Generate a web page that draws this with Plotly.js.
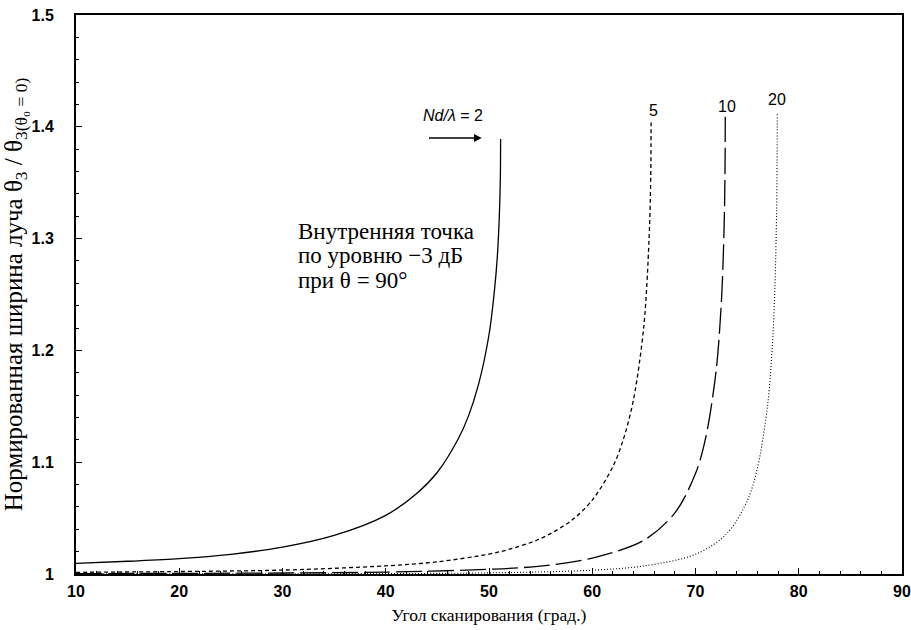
<!DOCTYPE html>
<html>
<head>
<meta charset="utf-8">
<script src="https://cdn.plot.ly/plotly-3.0.1.min.js"></script>
<style>html,body{margin:0;padding:0;background:#fff;}#chart{width:911px;height:630px;}</style>
</head>
<body>
<div id="chart"></div>
<script>
// Scan angle (deg) and normalized beamwidth, for each Nd/lambda
const scan2  = [10, 15, 20, 25, 30, 35, 40, 43, 45, 47, 48, 49, 50, 50.5, 50.8, 51, 51.1, 51.12, 51.125];
const beam2  = [1.0095, 1.0114, 1.0137, 1.0176, 1.024, 1.0345, 1.0525, 1.072, 1.091, 1.1205, 1.141, 1.170, 1.214, 1.251, 1.283, 1.320, 1.355, 1.378, 1.389];

const scan5  = [10, 20, 30, 40, 45, 50, 52, 55, 58, 60, 62, 63, 64, 65, 65.5, 65.65, 65.68, 65.7];
const beam5  = [1.0015, 1.0022, 1.0035, 1.0073, 1.0109, 1.0178, 1.0222, 1.0317, 1.048, 1.0661, 1.0961, 1.1201, 1.1562, 1.2222, 1.2989, 1.3469, 1.3685, 1.4038];

const scan10 = [10, 30, 40, 50, 55, 60, 65, 68, 70, 71, 72, 72.5, 72.7, 72.8, 72.85, 72.875, 72.882];
const beam10 = [1.0003, 1.0009, 1.0017, 1.0042, 1.0071, 1.0143, 1.0302, 1.0546, 1.0898, 1.1224, 1.182, 1.2421, 1.2871, 1.323, 1.3541, 1.3849, 1.409];

const scan20 = [10, 30, 50, 60, 65, 70, 73, 75, 76, 77, 77.5, 77.7, 77.85, 77.9, 77.92];
const beam20 = [1.0001, 1.0002, 1.001, 1.0034, 1.0072, 1.0176, 1.0357, 1.0653, 1.0948, 1.1522, 1.2132, 1.2585, 1.3213, 1.3673, 1.4116];

const xTicks = [10, 20, 30, 40, 50, 60, 70, 80, 90];
const xTickText = ['10', '20', '30', '40', '50', '60', '70', '80', '90'];
const yTicks = [1, 1.1, 1.2, 1.3, 1.4, 1.5];
const yTickText = ['1', '1.1', '1.2', '1.3', '1.4', '1.5'];

const curveLabels = ['5', '10', '20'];
const curveLabelX = [65.9, 73.05, 77.9];
const curveLabelY = [1.415, 1.418, 1.424];

const noteLines = ['Внутренняя точка', 'по уровню −3 дБ', 'при θ = 90°'];
const noteLineY = [1.3068, 1.2845, 1.2622];

const black = '#000';
const spline = {shape: 'spline', smoothing: 0.9};
const traces = [
  {x: scan2,  y: beam2,  mode: 'lines', line: Object.assign({color: black, width: 1.3, dash: 'solid'}, spline)},
  {x: scan5,  y: beam5,  mode: 'lines', line: Object.assign({color: black, width: 1.3, dash: '4px,3px'}, spline)},
  {x: scan10, y: beam10, mode: 'lines', line: Object.assign({color: black, width: 1.3, dash: '26px,6px'}, spline)},
  {x: scan20, y: beam20, mode: 'lines', line: Object.assign({color: black, width: 1.1, dash: '1px,2px'}, spline)}
];

const sans = '"Liberation Sans", Arial, Helvetica, sans-serif';
const serif = '"Liberation Serif", "Times New Roman", Times, serif';

const annotations = [
  {x: 46.5, y: 1.4105, xref: 'x', yref: 'y', text: '<i>Nd/λ</i> = 2', showarrow: false,
   font: {family: sans, size: 16, color: black}},
  {x: 49.3, y: 1.39, ax: 43.9, ay: 1.39, xref: 'x', yref: 'y', axref: 'x', ayref: 'y', text: ' ',
   showarrow: true, arrowhead: 2, arrowsize: 1.2, arrowwidth: 1.3, arrowcolor: black}
];
for (let i = 0; i < noteLines.length; i++) {
  annotations.push({x: 31.3, y: noteLineY[i], xref: 'x', yref: 'y', xanchor: 'left', yanchor: 'middle',
    text: noteLines[i], showarrow: false, font: {family: serif, size: 23, color: black}});
}
for (let i = 0; i < curveLabels.length; i++) {
  annotations.push({x: curveLabelX[i], y: curveLabelY[i], xref: 'x', yref: 'y', text: curveLabels[i],
    showarrow: false, font: {family: sans, size: 16, color: black}});
}

const tickFont = {family: sans, size: 16, color: black, weight: 'bold'};

const layout = {
  width: 911, height: 630,
  margin: {l: 76, r: 9, t: 15, b: 56},
  paper_bgcolor: '#fff', plot_bgcolor: '#fff',
  showlegend: false,
  xaxis: {
    range: [10, 90], tickvals: xTicks, ticktext: xTickText,
    showgrid: false, zeroline: false, showline: true, linecolor: black, linewidth: 2, mirror: true,
    ticks: 'inside', ticklen: 6, tickwidth: 1, tickcolor: black,
    minor: {dtick: 2, ticks: 'inside', ticklen: 3, tickcolor: black, showgrid: false},
    tickfont: tickFont, ticklabelstandoff: 2,
    title: {text: 'Угол сканирования (град.)', font: {family: serif, size: 17.5, color: black}, standoff: 10}
  },
  yaxis: {
    range: [1, 1.5], tickvals: yTicks, ticktext: yTickText,
    showgrid: false, zeroline: false, showline: true, linecolor: black, linewidth: 2, mirror: true,
    ticks: 'inside', ticklen: 6, tickwidth: 1, tickcolor: black,
    minor: {dtick: 0.02, ticks: 'inside', ticklen: 3, tickcolor: black, showgrid: false},
    tickfont: tickFont, ticklabelstandoff: 17,
    title: {text: 'Нормированная ширина луча θ<sub>3</sub> / θ<sub>3(θ₀ = 0)</sub>', font: {family: serif, size: 25, color: black}}
  },
  annotations: annotations
};

Plotly.newPlot('chart', traces, layout, {staticPlot: true, displayModeBar: false});
</script>
</body>
</html>
